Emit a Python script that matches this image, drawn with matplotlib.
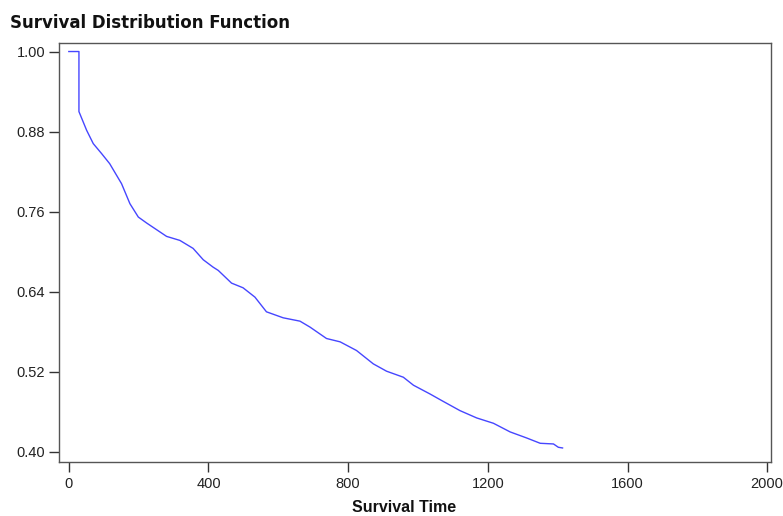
import matplotlib
matplotlib.use("Agg")
import matplotlib.pyplot as plt

# Kaplan-Meier estimate (time, survival)
time = [0, 29, 29, 51, 70, 94, 117, 151, 175, 199, 223, 280, 318, 356, 385,
        413, 428, 466, 499, 533, 566, 614, 662, 691, 738, 777, 824, 872,
        910, 958, 987, 1034, 1068, 1120, 1168, 1216, 1264, 1311, 1350,
        1388, 1402, 1414]
survival = [1.000, 1.000, 0.910, 0.882, 0.862, 0.847, 0.832, 0.802, 0.772,
            0.752, 0.743, 0.723, 0.717, 0.705, 0.688, 0.677, 0.672, 0.653,
            0.646, 0.632, 0.610, 0.601, 0.596, 0.587, 0.570, 0.565, 0.552,
            0.532, 0.521, 0.512, 0.500, 0.487, 0.477, 0.462, 0.451, 0.443,
            0.430, 0.421, 0.413, 0.412, 0.407, 0.406]

x_ticks = [0, 400, 800, 1200, 1600, 2000]
y_ticks = [0.40, 0.52, 0.64, 0.76, 0.88, 1.00]

fig = plt.figure(figsize=(7.83, 5.16), dpi=100, facecolor="white")
ax = fig.add_axes([0.0754, 0.1047, 0.9093, 0.812])

ax.plot(time, survival, color="#4646ff", linewidth=1.0)

ax.set_xlim(-28, 2011)
ax.set_ylim(0.385, 1.0128)
ax.set_xticks(x_ticks)
ax.set_yticks(y_ticks)
ax.set_xticklabels([str(t) for t in x_ticks])
ax.set_yticklabels([f"{v:.2f}" for v in y_ticks])
for lab in ax.get_xticklabels() + ax.get_yticklabels():
    lab.set_family("Liberation Sans")

for s in ax.spines.values():
    s.set_color("#555555")
    s.set_linewidth(1.0)
ax.tick_params(direction="out", length=7, width=1, color="#333333",
               labelsize=10.5, labelcolor="#222222")
ax.tick_params(axis="x", pad=4)
ax.tick_params(axis="y", pad=3)

fig.text(0.0128, 0.9457, "Survival Distribution Function",
         fontsize=12, fontweight="bold", family="DejaVu Sans",
         ha="left", va="baseline", color="#111111")
fig.text(0.516, 0.008, "Survival Time", fontsize=11.5, fontweight="bold",
         family="Liberation Sans", ha="center", va="baseline", color="#111111")

fig.savefig("out.png", dpi=100, facecolor="white")
